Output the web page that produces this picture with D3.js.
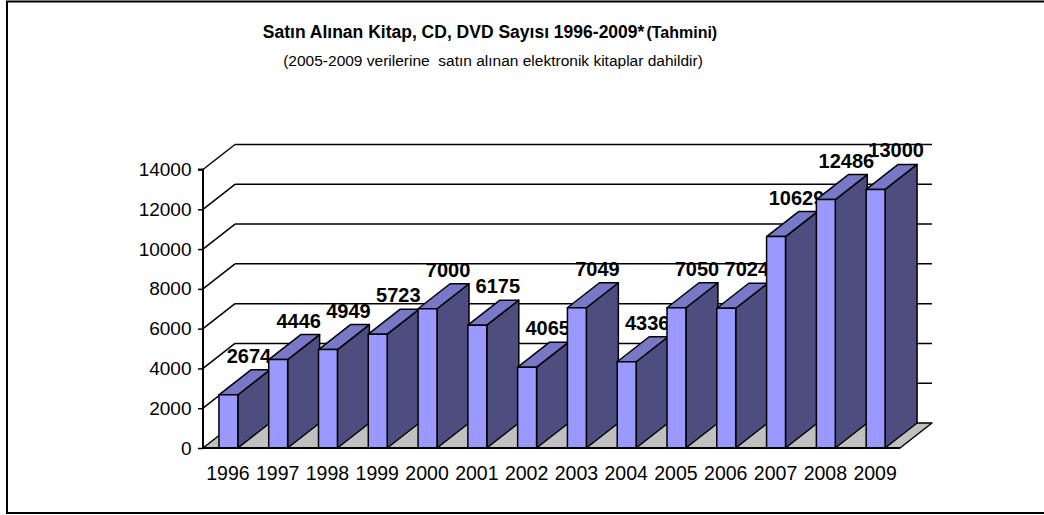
<!DOCTYPE html>
<html>
<head>
<meta charset="utf-8">
<script src="https://cdn.jsdelivr.net/npm/d3@7"></script>
<style>
  body { margin: 0; background: #fff; }
  svg { display: block; font-family: 'Liberation Sans', Arial, sans-serif; }
</style>
</head>
<body>
<div id="chart"></div>
<script>
// data
const years = ['1996', '1997', '1998', '1999', '2000', '2001', '2002',
  '2003', '2004', '2005', '2006', '2007', '2008', '2009'];
const counts = [2674, 4446, 4949, 5723, 7000, 6175, 4065,
  7049, 4336, 7050, 7024, 10629, 12486, 13000];
const yTicks = [0, 2000, 4000, 6000, 8000, 10000, 12000, 14000];
const titleMain = 'Satın Alınan Kitap, CD, DVD Sayısı 1996-2009*';
const titleNote = '(Tahmini)';
const subtitle = '(2005-2009 verilerine  satın alınan elektronik kitaplar dahildir)';

///////// Setup //////////
const W = 1044, H = 515;
const depthX = 32, depthY = -25; // 3d offset of the back wall

const svg = d3.select('#chart').append('svg')
  .attr('width', W)
  .attr('height', H);

// outer frame (right edge runs off the picture)
svg.append('rect')
  .attr('x', 7).attr('y', 1.5)
  .attr('width', W + 20).attr('height', 511.5)
  .attr('fill', 'none')
  .attr('stroke', '#000')
  .attr('stroke-width', 2);

const xScale = d3.scaleBand().domain(years).range([203, 900]);
const yScale = d3.scaleLinear().domain([0, 14000]).range([448, 169.5]);
const bw = xScale.bandwidth();

///////// Titles //////////
const title = svg.append('text')
  .attr('x', 490).attr('y', 38)
  .attr('text-anchor', 'middle')
  .attr('font-weight', 'bold');
title.append('tspan').attr('font-size', '17.5px').text(titleMain);
title.append('tspan').attr('font-size', '16px').attr('dx', 2).text(titleNote);

svg.append('text')
  .attr('x', 493).attr('y', 66)
  .attr('text-anchor', 'middle')
  .attr('font-size', '15.5px')
  .style('white-space', 'pre')
  .text(subtitle);

///////// Back wall + floor //////////
const x0 = xScale.range()[0], x1 = xScale.range()[1];
const wall = svg.append('g');

wall.selectAll('.grid')
  .data(yTicks.filter((t) => t > 0))
  .enter()
  .append('line')
  .attr('x1', x0 + depthX).attr('x2', x1 + depthX)
  .attr('y1', (d) => yScale(d) + depthY)
  .attr('y2', (d) => yScale(d) + depthY)
  .attr('stroke', '#000').attr('stroke-width', 1.5);

wall.selectAll('.diag')
  .data(yTicks.filter((t) => t > 0))
  .enter()
  .append('line')
  .attr('x1', x0).attr('x2', x0 + depthX)
  .attr('y1', (d) => yScale(d))
  .attr('y2', (d) => yScale(d) + depthY)
  .attr('stroke', '#000').attr('stroke-width', 1.5);

const y0 = yScale(0);
wall.append('path')
  .attr('d', `M${x0},${y0}L${x1},${y0}L${x1 + depthX},${y0 + depthY}L${x0 + depthX},${y0 + depthY}Z`)
  .attr('fill', '#c0c0c0')
  .attr('stroke', '#000')
  .attr('stroke-width', 1.5)
  .attr('stroke-linejoin', 'round');

///////// Axes //////////
const yAxis = d3.axisLeft(yScale)
  .tickValues(yTicks)
  .tickFormat(d3.format('d'))
  .tickSize(5)
  .tickPadding(6.5);
const yAxisGroup = svg.append('g')
  .attr('transform', `translate(${x0},0)`)
  .call(yAxis);
yAxisGroup.select('.domain').attr('d', `M-5,${yScale(14000)}H0V${y0}`).attr('stroke-width', 2);
yAxisGroup.selectAll('line').attr('stroke-width', 1.5);
yAxisGroup.selectAll('text')
  .attr('font-size', '19px')
  .attr('font-family', 'Liberation Sans, Arial, sans-serif')
  .attr('fill', '#000');

const xAxis = d3.axisBottom(xScale).tickSize(0).tickPadding(18);
const xAxisGroup = svg.append('g')
  .attr('transform', `translate(0,${y0})`)
  .call(xAxis);
xAxisGroup.select('.domain').remove();
xAxisGroup.selectAll('text')
  .attr('font-size', '19.5px')
  .attr('font-family', 'Liberation Sans, Arial, sans-serif')
  .attr('fill', '#000');

///////// Bars //////////
const frontW = bw * 0.38;
const frontOff = bw * 0.32;
const bars = svg.append('g');

years.forEach((yr, i) => {
  const xf = xScale(yr) + frontOff;
  const yt = yScale(counts[i]);
  const g = bars.append('g')
    .attr('stroke', '#000')
    .attr('stroke-width', 1.5)
    .attr('stroke-linejoin', 'round');

  // side face
  g.append('path')
    .attr('d', `M${xf + frontW},${yt}L${xf + frontW + depthX},${yt + depthY}` +
      `L${xf + frontW + depthX},${y0 + depthY}L${xf + frontW},${y0}Z`)
    .attr('fill', '#4d4d80');
  // top face
  g.append('path')
    .attr('d', `M${xf},${yt}L${xf + depthX},${yt + depthY}` +
      `L${xf + frontW + depthX},${yt + depthY}L${xf + frontW},${yt}Z`)
    .attr('fill', '#7878c8');
  // front face
  g.append('rect')
    .attr('x', xf).attr('y', yt)
    .attr('width', frontW).attr('height', y0 - yt)
    .attr('fill', '#9999ff');

  // value label
  bars.append('text')
    .attr('x', xf + 30)
    .attr('y', yt - 32)
    .attr('text-anchor', 'middle')
    .attr('font-size', '20px')
    .attr('font-weight', 'bold')
    .text(counts[i]);
});

// front floor edge
svg.append('line')
  .attr('x1', x0).attr('x2', x1)
  .attr('y1', y0).attr('y2', y0)
  .attr('stroke', '#000').attr('stroke-width', 2);
</script>
</body>
</html>
